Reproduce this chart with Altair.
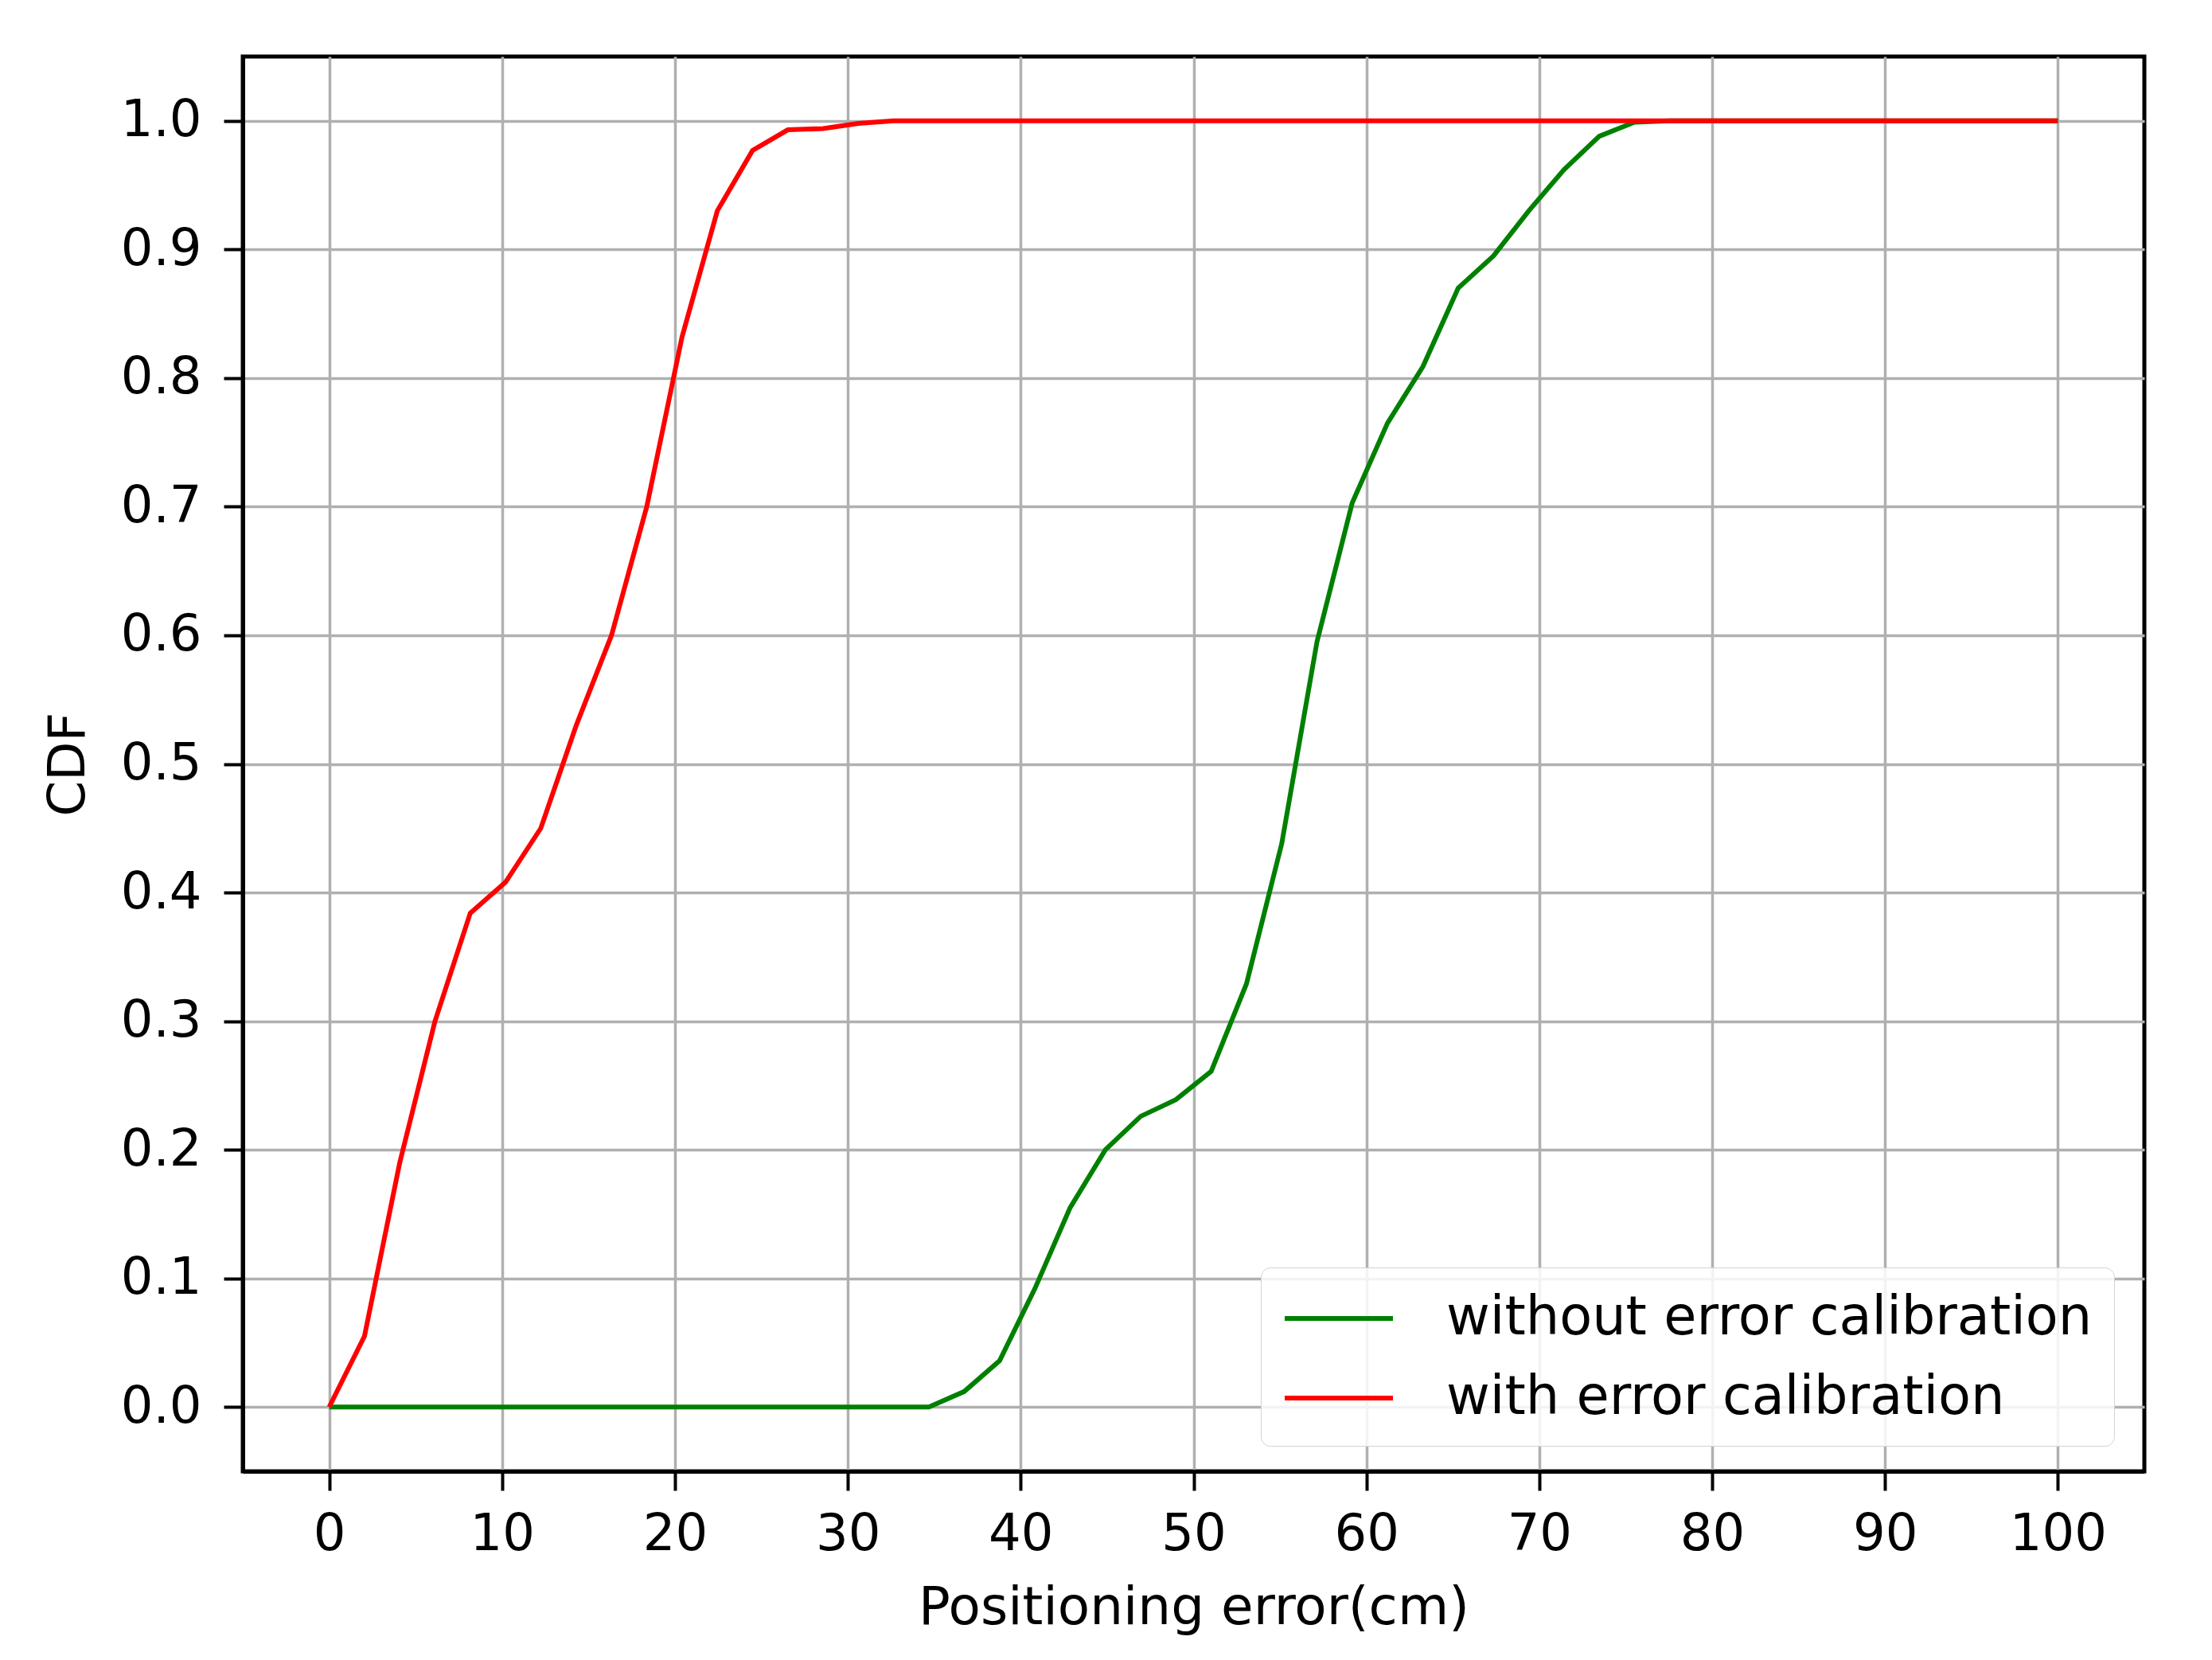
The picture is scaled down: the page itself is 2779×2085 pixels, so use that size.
import altair as alt
import pandas as pd

# x positions of the sampled CDF points (cm)
x_vals = [0.0, 2.04, 4.08, 6.12, 8.16, 10.2, 12.24, 14.29, 16.33, 18.37,
          20.41, 22.45, 24.49, 26.53, 28.57, 30.61, 32.65, 34.69, 36.73, 38.78,
          40.82, 42.86, 44.9, 46.94, 48.98, 51.02, 53.06, 55.1, 57.14, 59.18,
          61.22, 63.27, 65.31, 67.35, 69.39, 71.43, 73.47, 75.51, 77.55, 79.59,
          81.63, 83.67, 85.71, 87.76, 89.8, 91.84, 93.88, 95.92, 97.96, 100.0]

without_cal = [0, 0, 0, 0, 0, 0, 0, 0, 0, 0,
               0, 0, 0, 0, 0, 0, 0, 0, 0.012, 0.036,
               0.092, 0.155, 0.200, 0.226, 0.239, 0.261, 0.329, 0.438, 0.595, 0.703,
               0.765, 0.809, 0.870, 0.895, 0.930, 0.962, 0.988, 0.999, 1.0, 1.0,
               1.0, 1.0, 1.0, 1.0, 1.0, 1.0, 1.0, 1.0, 1.0, 1.0]

with_cal = [0, 0.055, 0.19, 0.30, 0.384, 0.408, 0.45, 0.53, 0.60, 0.70,
            0.832, 0.93, 0.977, 0.993, 0.994, 0.998, 1.0, 1.0, 1.0, 1.0,
            1.0, 1.0, 1.0, 1.0, 1.0, 1.0, 1.0, 1.0, 1.0, 1.0,
            1.0, 1.0, 1.0, 1.0, 1.0, 1.0, 1.0, 1.0, 1.0, 1.0,
            1.0, 1.0, 1.0, 1.0, 1.0, 1.0, 1.0, 1.0, 1.0, 1.0]

series_names = ["without error calibration", "with error calibration"]
series_colors = ["#008000", "#ff0000"]

x_ticks = [0, 10, 20, 30, 40, 50, 60, 70, 80, 90, 100]
y_ticks = [0.0, 0.1, 0.2, 0.3, 0.4, 0.5, 0.6, 0.7, 0.8, 0.9, 1.0]

rows = []
for order, (name, vals) in enumerate(zip(series_names, [without_cal, with_cal])):
    for i, (xv, yv) in enumerate(zip(x_vals, vals)):
        rows.append({"x": xv, "y": yv, "series": name, "k": order})
df = pd.DataFrame(rows)

FONT = "DejaVu Sans"

chart = alt.Chart(df).mark_line(strokeWidth=6).encode(
    x=alt.X("x:Q",
            scale=alt.Scale(domain=[-5, 105], nice=False, zero=False),
            axis=alt.Axis(values=x_ticks, title="Positioning error(cm)",
                          titlePadding=28, labelPadding=23, titleFontSize=66)),
    y=alt.Y("y:Q",
            scale=alt.Scale(domain=[-0.05, 1.05], nice=False, zero=False),
            axis=alt.Axis(values=y_ticks, format=".1f", title="CDF",
                          titlePadding=33, labelPadding=28)),
    color=alt.Color("series:N",
                    scale=alt.Scale(domain=series_names, range=series_colors),
                    legend=alt.Legend(title=None, orient="none",
                                      legendX=1279, legendY=1521,
                                      symbolType="M-1,0H3", symbolSize=4624,
                                      symbolStrokeWidth=6,
                                      labelFontSize=67, labelFont=FONT,
                                      labelColor="black", labelLimit=1500,
                                      labelOffset=132,
                                      fillColor="rgba(255,255,255,0.85)",
                                      strokeColor="#d3d3d3",
                                      cornerRadius=12, padding=27,
                                      rowPadding=30)),
    detail="k:N",
).properties(
    width=2389, height=1777,
    autosize=alt.AutoSizeParams(type="none"),
    padding={"left": 297, "top": 63, "right": 60, "bottom": 230},
).configure_view(
    stroke="black", strokeWidth=5
).configure_axis(
    tickSize=24, tickWidth=4, tickColor="black",
    domainColor="black", domainWidth=5,
    gridColor="#b0b0b0", gridWidth=3.5,
    labelFont=FONT, labelFontSize=64, labelColor="black",
    titleFont=FONT, titleFontSize=64, titleFontWeight="normal", titleColor="black",
)

chart.save("out.html", embed_options={"renderer": "svg", "actions": False})
